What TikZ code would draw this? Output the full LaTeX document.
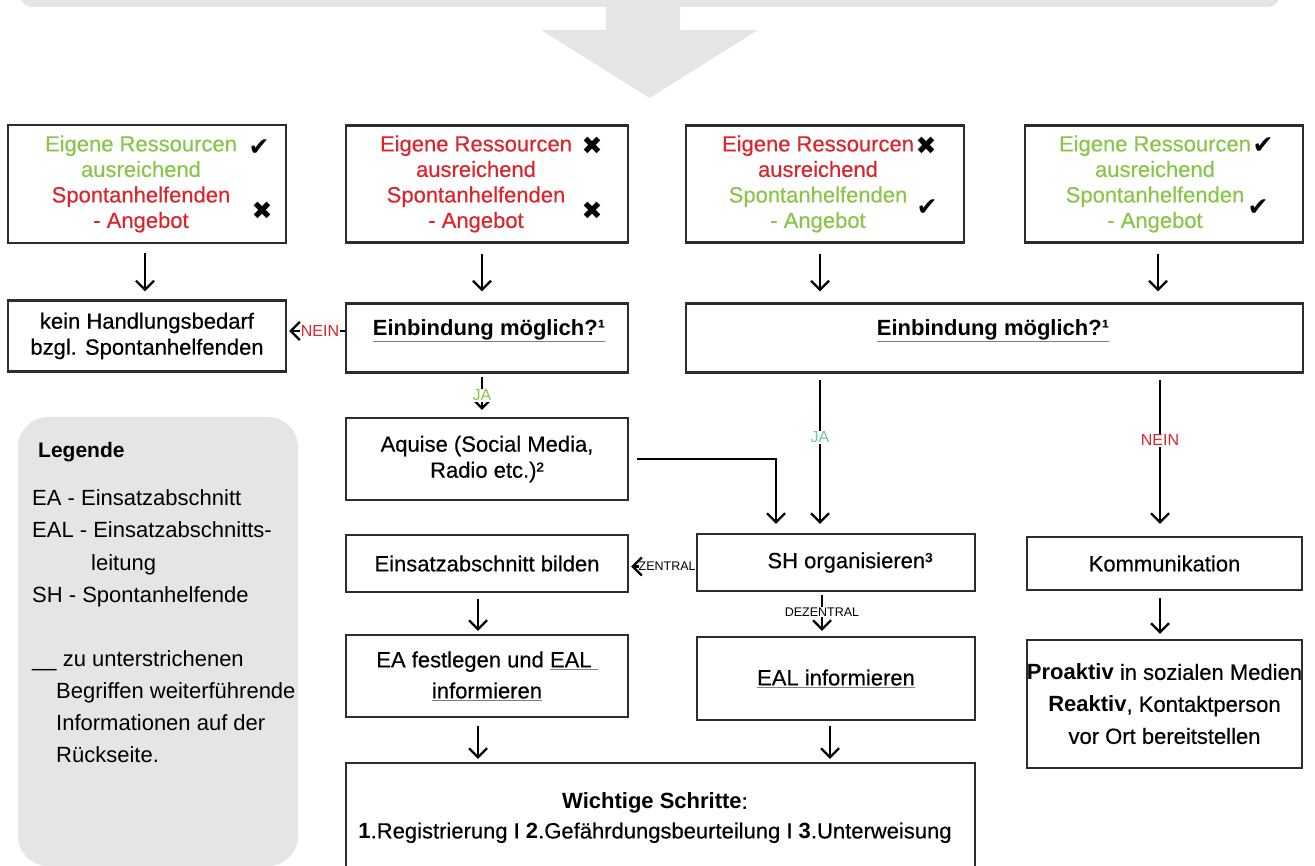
\documentclass[tikz,border=0pt]{standalone}
\usepackage{fontspec}
\setmainfont{Liberation Sans}
\newfontfamily\medfont{Liberation Sans}[UprightFeatures={FakeBold=0.4}]
\newfontfamily\marksfont{DejaVu Sans}
\usetikzlibrary{arrows.meta}
\definecolor{okgreen}{RGB}{137,196,75}
\definecolor{nored}{RGB}{218,37,45}
\definecolor{jateal}{RGB}{118,200,152}
\definecolor{panelgrey}{RGB}{228,229,228}
\definecolor{boxline}{RGB}{45,45,45}
\newcommand{\markok}{{\marksfont ✔}}
\newcommand{\markno}{{\marksfont ✖}}
\newcommand{\ulgrey}[1]{{\color{gray}\underline{\color{black}#1}}}
\begin{document}
\begin{tikzpicture}[x=1pt, y=-1pt,
    box/.style={draw=boxline, line width=2.4pt, align=center, inner sep=0pt, font=\medfont\fontsize{22}{26}\selectfont},
    boxtext/.style={align=center, inner sep=0pt, font=\medfont\fontsize{22}{25.5}\selectfont},
    flow/.style={line width=2.2pt, -{Straight Barb[length=9pt,width=18pt]}},
    tag/.style={font=\fontsize{16}{16}\selectfont, fill=white, inner sep=1pt},
    smalltag/.style={font=\fontsize{12.5}{12.5}\selectfont, fill=white, inner sep=0pt},
    tickmark/.style={font=\fontsize{25}{25}\selectfont, inner sep=0pt},
    legtext/.style={anchor=base west, inner sep=0pt, font=\fontsize{22}{22}\selectfont}]
    \useasboundingbox (0,0) rectangle (1315,866);
    \clip (0,0) rectangle (1315,866);

    \fill[panelgrey, rounded corners=12] (20,-40) rectangle (1280,7);
    \fill[panelgrey] (606,0) -- (680,0) -- (680,30) -- (758,30) -- (649.5,98) -- (541,30) -- (606,30) -- cycle;

    \node[box, minimum width=278, minimum height=118] (res1) at (147,184) {};
    \node[box, minimum width=282, minimum height=117] (res2) at (487,184) {};
    \node[box, minimum width=278, minimum height=117] (res3) at (825,184) {};
    \node[box, minimum width=278, minimum height=117] (res4) at (1164,184) {};

    \node[boxtext] (res1t) at (141,184) {\color{okgreen}Eigene Ressourcen\\\color{okgreen}ausreichend\\\color{nored}Spontanhelfenden\\\color{nored}- Angebot};
    \node[boxtext] (res2t) at (476,184) {\color{nored}Eigene Ressourcen\\\color{nored}ausreichend\\\color{nored}Spontanhelfenden\\\color{nored}- Angebot};
    \node[boxtext] (res3t) at (818,184) {\color{nored}Eigene Ressourcen\\\color{nored}ausreichend\\\color{okgreen}Spontanhelfenden\\\color{okgreen}- Angebot};
    \node[boxtext] (res4t) at (1155,184) {\color{okgreen}Eigene Ressourcen\\\color{okgreen}ausreichend\\\color{okgreen}Spontanhelfenden\\\color{okgreen}- Angebot};

    \node[tickmark] (res1a) at (259,148) {\markok};
    \node[tickmark] (res1b) at (262,211) {\markno};
    \node[tickmark] (res2a) at (592,146) {\markno};
    \node[tickmark] (res2b) at (592,211) {\markno};
    \node[tickmark] (res3a) at (926,146) {\markno};
    \node[tickmark] (res3b) at (927,208) {\markok};
    \node[tickmark] (res4a) at (1263,146) {\markok};
    \node[tickmark] (res4b) at (1258,208) {\markok};

    \node[box, minimum width=278, minimum height=71] (kein) at (147,336) {kein Handlungsbedarf\\bzgl. Spontanhelfenden};
    \node[box, minimum width=282, minimum height=69] (ein1) at (487,338) {};
    \node[boxtext] (ein1t) at (489,331) {\ulgrey{\textbf{Einbindung möglich?¹}}};
    \node[box, minimum width=617, minimum height=69] (ein2) at (994.5,338) {};
    \node[boxtext] (ein2t) at (993,331) {\ulgrey{\textbf{Einbindung möglich?¹}}};

    \node[box, minimum width=282, minimum height=82] (aquise) at (487,459) {Aquise (Social Media,\\Radio etc.)²};

    \node[box, minimum width=282, minimum height=57] (abschnitt) at (487,563.5) {Einsatzabschnitt bilden};
    \node[box, minimum width=278, minimum height=57] (orga) at (836,562.5) {\hspace*{28pt}SH organisieren³};
    \node[box, minimum width=275, minimum height=53] (komm) at (1164.5,563.5) {Kommunikation};

    \node[box, minimum width=282, minimum height=82] (festlegen) at (487,676) {EA festlegen und \ulgrey{EAL }\\[5pt]\ulgrey{informieren}};
    \node[box, minimum width=278, minimum height=83] (infor) at (836,678.5) {\ulgrey{EAL informieren}};
    \node[box, minimum width=275, minimum height=128] (proaktiv) at (1164.5,704) {\textbf{Proaktiv} in sozialen Medien\\[6pt]\textbf{Reaktiv}, Kontaktperson\\[6pt]vor Ort bereitstellen};

    \node[box, minimum width=629, minimum height=137] (schritte) at (660.5,831.5) {};
    \node[boxtext] (schrittet) at (655,818) {\textbf{Wichtige Schritte}:\\[4pt]\textbf{1}.Registrierung I \textbf{2}.Gefährdungsbeurteilung I \textbf{3}.Unterweisung};

    \draw[flow, shorten <=9pt, shorten >=8pt] ([xshift=-2pt]res1.south) -- ([xshift=-2pt]res1.south |- kein.north);
    \draw[flow, shorten <=10pt, shorten >=11pt] ([xshift=-5pt]res2.south) -- ([xshift=-5pt]res2.south |- ein1.north);
    \draw[flow, shorten <=10pt, shorten >=11pt] ([xshift=-5pt]res3.south) -- ([xshift=-5pt]res3.south |- ein2.north);
    \draw[flow, shorten <=10pt, shorten >=11pt] ([xshift=-6pt]res4.south) -- ([xshift=-6pt]res4.south |- ein2.north);

    \draw[flow, shorten >=2pt] ([yshift=7pt]ein1.west) -- ([yshift=5pt]kein.east) node[tag, text=nored, pos=0.43] (nein1) {NEIN};
    \draw[flow, shorten <=3pt, shorten >=7pt] ([xshift=-5pt]ein1.south) -- ([xshift=-5pt]aquise.north) node[tag, text=okgreen, pos=0.5] (ja1) {JA};

    \draw[flow, shorten <=6pt, shorten >=9pt] ([xshift=-16pt]orga.north |- ein2.south) -- ([xshift=-16pt]orga.north) node[tag, text=jateal, pos=0.4] (ja2) {JA};
    \draw[flow, shorten <=6pt, shorten >=12pt] ([xshift=-4.5pt]komm.north |- ein2.south) -- ([xshift=-4.5pt]komm.north) node[tag, text=nored, pos=0.41] (nein2) {NEIN};
    \draw[flow, shorten <=8pt, shorten >=9pt] (aquise.east) -| ([xshift=-60pt]orga.north);

    \draw[flow, shorten >=2pt] ([yshift=-4pt]orga.west) -- ([yshift=-3pt]abschnitt.east) node[smalltag, pos=0.43] (zentral) {ZENTRAL};
    \draw[flow, shorten <=3pt, shorten >=5pt] ([xshift=-14pt]orga.south) -- ([xshift=-14pt]infor.north) node[smalltag, inner sep=1pt, pos=0.45] (dezentral) {DEZENTRAL};

    \draw[flow, shorten <=6pt, shorten >=3pt] ([xshift=-9pt]abschnitt.south) -- ([xshift=-9pt]festlegen.north);
    \draw[flow, shorten <=7pt, shorten >=5pt] ([xshift=-4.5pt]komm.south) -- ([xshift=-4.5pt]proaktiv.north);
    \draw[flow, shorten <=8pt, shorten >=3pt] ([xshift=-9pt]festlegen.south) -- ([xshift=-9pt]festlegen.south |- schritte.north);
    \draw[flow, shorten <=5pt, shorten >=3pt] ([xshift=-6pt]infor.south) -- ([xshift=-6pt]infor.south |- schritte.north);

    \fill[panelgrey, rounded corners=30] (18,417) rectangle (298,866);
    \node[legtext, font=\bfseries\fontsize{21}{21}\selectfont] (legtitle) at (38,457) {Legende};
    \foreach \yy/\txt in {505/EA - Einsatzabschnitt, 537/EAL - Einsatzabschnitts-, 570/\hspace*{59pt}leitung, 602/SH - Spontanhelfende, 666/\_\_ zu unterstrichenen, 698/\hspace*{24pt}Begriffen weiterführende, 730/\hspace*{24pt}Informationen auf der, 762/\hspace*{24pt}Rückseite.}
        \node[legtext] (leg\yy) at (32,\yy) {\txt};
\end{tikzpicture}
\end{document}
